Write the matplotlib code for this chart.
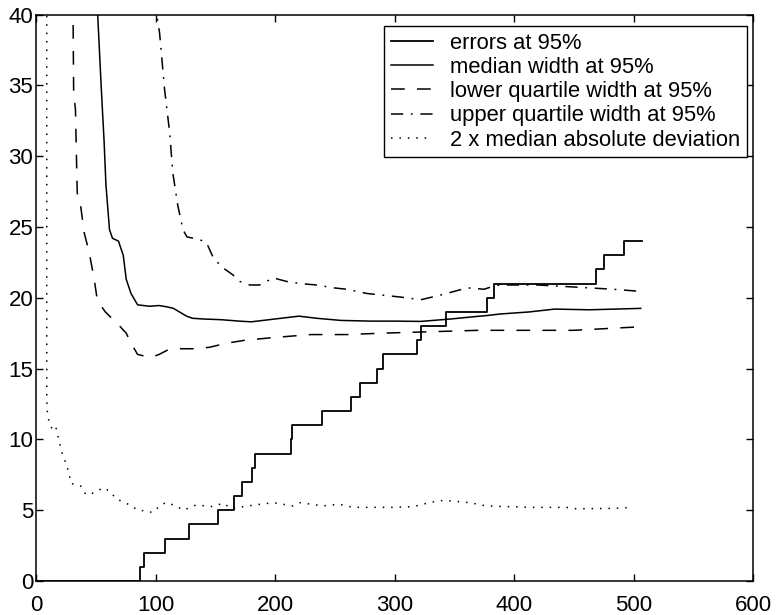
import matplotlib
matplotlib.use("Agg")
import matplotlib.pyplot as plt

plt.rcParams['font.family'] = ['Liberation Sans', 'DejaVu Sans']

# errors at 95% (step function: jump positions and levels)
err_x = [1, 87, 90, 108, 128, 152, 166, 172, 181, 183, 213, 214, 239, 264, 271,
         285, 290, 319, 322, 343, 377, 383, 469, 475, 492, 507]
err_y = [0, 1, 2, 3, 4, 5, 6, 7, 8, 9, 10, 11, 12, 13, 14,
         15, 16, 17, 18, 19, 20, 21, 22, 23, 24, 24]

# median width at 95%
med_x = [50.5, 51.6, 54.5, 57, 58.5, 61.5, 64, 69, 73, 75.5, 79.5, 85, 95, 103, 110,
         115, 121, 126, 131, 140, 155, 170, 180, 190, 205, 220, 235, 255, 280, 300,
         322, 347, 365, 378, 388, 413, 434, 463, 485, 506]
med_y = [45, 40, 35, 31, 28, 24.8, 24.2, 24.0, 23.0, 21.3, 20.3, 19.5, 19.4, 19.45, 19.35,
         19.25, 18.95, 18.7, 18.55, 18.5, 18.45, 18.35, 18.3, 18.4, 18.55, 18.7, 18.55, 18.4, 18.35, 18.35,
         18.33, 18.5, 18.65, 18.75, 18.85, 19.0, 19.2, 19.15, 19.2, 19.25]

# lower quartile width at 95%
low_x = [30.5, 31, 31.5, 33, 34.5, 37.5, 40.3, 44.5, 48.7, 51, 53, 58, 64, 70, 75.5,
         79.5, 85, 92, 97, 103, 110, 120, 132, 145, 160, 175, 200, 230, 260, 290,
         330, 370, 400, 450, 483, 506]
low_y = [45, 40, 34.5, 33.3, 27.4, 26.4, 24.6, 23.2, 21.3, 20.0, 19.6, 19.0, 18.5, 18.0, 17.5,
         16.8, 16.0, 15.85, 15.8, 16.0, 16.3, 16.4, 16.4, 16.5, 16.8, 17.0, 17.2, 17.4, 17.4, 17.5,
         17.6, 17.7, 17.7, 17.7, 17.85, 17.95]

# upper quartile width at 95%
upp_x = [100.5, 101, 103.4, 107.6, 111.8, 114.5, 118.7, 123, 126.3, 137, 142.6, 148, 155,
         165, 170.6, 179, 187, 198.6, 209.8, 221, 235, 249, 260, 277, 305, 322, 339, 361,
         375, 382, 388, 420, 452, 483, 506]
upp_y = [42, 40, 38.7, 34.7, 31.7, 28.8, 26.5, 24.8, 24.3, 24.1, 23.9, 22.9, 22.2,
         21.6, 21.15, 20.9, 20.9, 21.4, 21.15, 21.0, 20.9, 20.7, 20.6, 20.3, 20.05, 19.86, 20.2, 20.7,
         20.6, 20.8, 20.9, 20.9, 20.75, 20.6, 20.45]

# 2 x median absolute deviation
mad_x = [8.5, 9, 9, 9, 9, 9.5, 11, 13.7, 16.5, 19.3, 22, 25, 27.7, 29, 33, 37.5, 41.8, 46,
         50, 55.7, 57, 62.7, 67, 74, 80, 85, 92, 97.7, 103.4, 109, 117, 123.5, 134, 148,
         156.6, 163.6, 173.4, 186, 198.6, 215, 221, 240, 254, 265, 298.6, 315.5, 329, 338,
         347.7, 363, 376.8, 415.8, 443.6, 452, 485, 499.4]
mad_y = [45, 40, 30, 20, 13, 11.9, 11.2, 10.7, 10.9, 9.9, 9.0, 8.3, 7.6, 6.9, 6.8, 6.7, 6.1, 6.15,
         6.3, 6.55, 6.6, 6.25, 5.8, 5.55, 5.3, 5.0, 4.95, 4.83, 5.3, 5.55, 5.3, 5.0, 5.37, 5.25,
         5.5, 5.1, 5.25, 5.4, 5.53, 5.3, 5.53, 5.3, 5.42, 5.2, 5.2, 5.25, 5.53, 5.68,
         5.65, 5.53, 5.3, 5.2, 5.2, 5.1, 5.13, 5.2]

labels = ["errors at 95%", "median width at 95%", "lower quartile width at 95%",
          "upper quartile width at 95%", "2 x median absolute deviation"]

fig = plt.figure(figsize=(7.76, 6.15), dpi=100)
ax = fig.add_axes([0.0464, 0.0553, 0.9240, 0.9211])

ax.step(err_x, err_y, where='post', color='black', lw=1.3, label=labels[0])
ax.plot(med_x, med_y, color='black', lw=1.1, label=labels[1])
ax.plot(low_x, low_y, color='black', lw=1.1, dashes=(9, 8), label=labels[2])
ax.plot(upp_x, upp_y, color='black', lw=1.1, dashes=(8, 5, 1.2, 5), label=labels[3])
ax.plot(mad_x, mad_y, color='black', lw=1.1, dashes=(1, 4.5), label=labels[4])

ax.set_xlim(0, 600)
ax.set_ylim(0, 40)
ax.set_xticks(range(0, 601, 100))
ax.set_yticks(range(0, 41, 5))
ax.tick_params(direction='in', top=True, right=True, length=5, width=1,
               labelsize=16, pad=10)
ax.tick_params(axis='y', pad=2)
for s in ax.spines.values():
    s.set_linewidth(1.1)

leg = ax.legend(loc='upper right', bbox_to_anchor=(0.9916, 0.9797), fontsize=15.8,
                handlelength=1.9, handletextpad=0.8, borderaxespad=0, borderpad=0.3,
                labelspacing=0.15, fancybox=False, framealpha=1, edgecolor='black')
leg.get_frame().set_linewidth(1.0)

fig.savefig('out.png', dpi=100)
